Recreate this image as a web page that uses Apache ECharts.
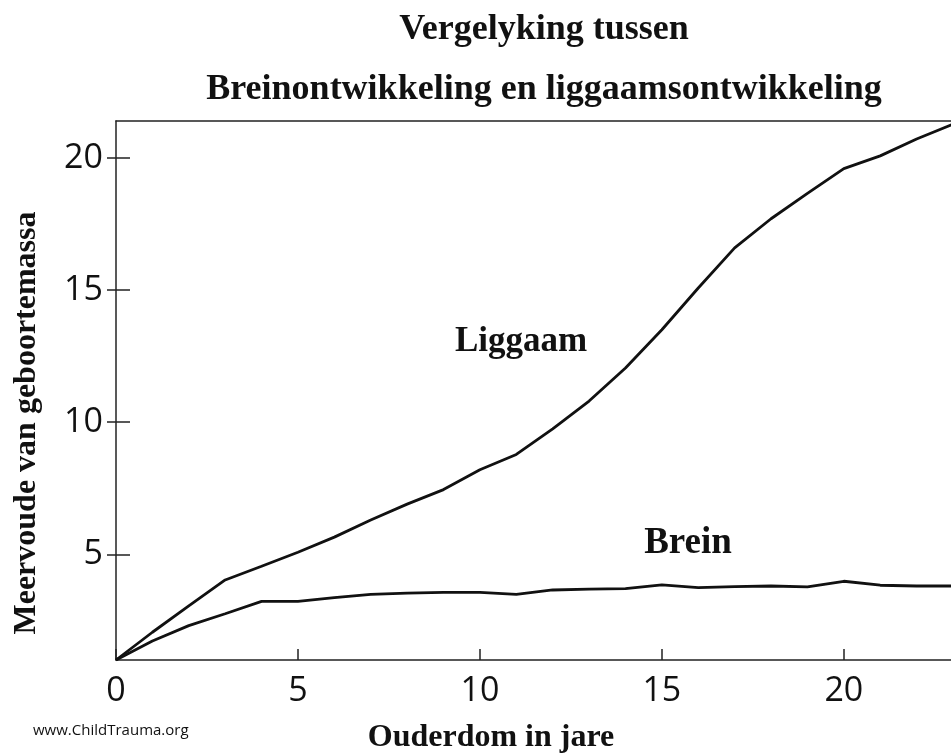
<!DOCTYPE html>
<html>
<head>
<meta charset="utf-8">
<script src="https://cdn.jsdelivr.net/npm/echarts@6/dist/echarts.min.js"></script>
<style>
html,body{margin:0;padding:0;background:#fff;}
#chart{width:951px;height:755px;}
</style>
</head>
<body>
<div id="chart"></div>
<script>
// Data
var ages = [0,1,2,3,4,5,6,7,8,9,10,11,12,13,14,15,16,17,18,19,20,21,22,23];
var liggaam = [1.0,2.05,3.05,4.03,4.55,5.08,5.65,6.3,6.9,7.45,8.2,8.78,9.75,10.8,12.05,13.5,15.08,16.6,17.7,18.66,19.6,20.08,20.72,21.28];
var brein = [1.0,1.72,2.3,2.75,3.22,3.22,3.36,3.48,3.53,3.56,3.56,3.48,3.65,3.68,3.7,3.84,3.74,3.78,3.8,3.77,3.98,3.83,3.8,3.8];
var xTicks = [0,5,10,15,20];
var yTicks = [5,10,15,20];
var titleLine1 = 'Vergelyking tussen';
var titleLine2 = 'Breinontwikkeling en liggaamsontwikkeling';
var xName = 'Ouderdom in jare';
var yName = 'Meervoude van geboortemassa';
var seriesNames = ['Liggaam','Brein'];
var credit = 'www.ChildTrauma.org';

function pairs(xs, ys){ return xs.map(function(x,i){ return [x, ys[i]]; }); }

var chart = echarts.init(document.getElementById('chart'), null, {renderer:'canvas'});
var serif = '"Liberation Serif", "DejaVu Serif", serif';
var sans = '"Open Sans", "Noto Sans", sans-serif';
var ink = '#111';

chart.setOption({
  backgroundColor:'#fff',
  animation:false,
  title:[
    {text:titleLine1, left:539, top:7, textAlign:'center',
     textStyle:{fontFamily:serif, fontWeight:'bold', fontSize:36, color:ink}},
    {text:titleLine2, left:539, top:67, textAlign:'center',
     textStyle:{fontFamily:serif, fontWeight:'bold', fontSize:36, color:ink}}
  ],
  grid:{left:116, right:-2, top:121, bottom:95, containLabel:false, outerBoundsMode:'none'},
  xAxis:[
    {type:'value', min:0, max:23, position:'bottom',
     axisLine:{show:true, onZero:false, lineStyle:{color:'#222', width:1.5}},
     axisTick:{show:true, inside:true, length:11, customValues:xTicks, lineStyle:{color:'#222', width:1.5}},
     axisLabel:{show:true, customValues:xTicks, margin:14, fontFamily:sans, fontSize:34, color:ink},
     splitLine:{show:false}},
    {type:'value', min:0, max:23, position:'top',
     axisLine:{show:true, onZero:false, lineStyle:{color:'#222', width:1.5}},
     axisTick:{show:false}, axisLabel:{show:false}, splitLine:{show:false}}
  ],
  yAxis:[
    {type:'value', min:1, max:21.4, position:'left',
     axisLine:{show:true, onZero:false, lineStyle:{color:'#222', width:1.5}},
     axisTick:{show:true, inside:false, length:9, customValues:yTicks, lineStyle:{color:'#222', width:1.5}},
     axisLabel:{show:true, customValues:yTicks, margin:13, fontFamily:sans, fontSize:34, color:ink},
     splitLine:{show:false}},
    {type:'value', min:1, max:21.4, position:'left',
     axisLine:{show:false, onZero:false},
     axisTick:{show:true, inside:true, length:14, customValues:yTicks, lineStyle:{color:'#222', width:1.5}},
     axisLabel:{show:false}, splitLine:{show:false}}
  ],
  series:[
    {name:seriesNames[0], type:'line', xAxisIndex:0, yAxisIndex:0, data:pairs(ages, liggaam),
     showSymbol:false, smooth:false, lineStyle:{color:ink, width:2.8}, silent:true},
    {name:seriesNames[1], type:'line', xAxisIndex:0, yAxisIndex:0, data:pairs(ages, brein),
     showSymbol:false, smooth:false, lineStyle:{color:ink, width:2.8}, silent:true}
  ],
  graphic:[
    {type:'text', x:27, y:423, rotation:Math.PI/2,
     style:{text:yName, font:'bold 32px '+serif, fill:ink, align:'center', verticalAlign:'middle'}},
    {type:'text', x:491, y:738,
     style:{text:xName, font:'bold 32px '+serif, fill:ink, align:'center', verticalAlign:'middle'}},
    {type:'text', x:521, y:342,
     style:{text:seriesNames[0], font:'bold 35px '+serif, fill:ink, align:'center', verticalAlign:'middle'}},
    {type:'text', x:688, y:543,
     style:{text:seriesNames[1], font:'bold 37px '+serif, fill:ink, align:'center', verticalAlign:'middle'}},
    {type:'text', x:33, y:731,
     style:{text:credit, font:'15px '+sans, fill:ink, align:'left', verticalAlign:'middle'}}
  ]
});
</script>
</body>
</html>
